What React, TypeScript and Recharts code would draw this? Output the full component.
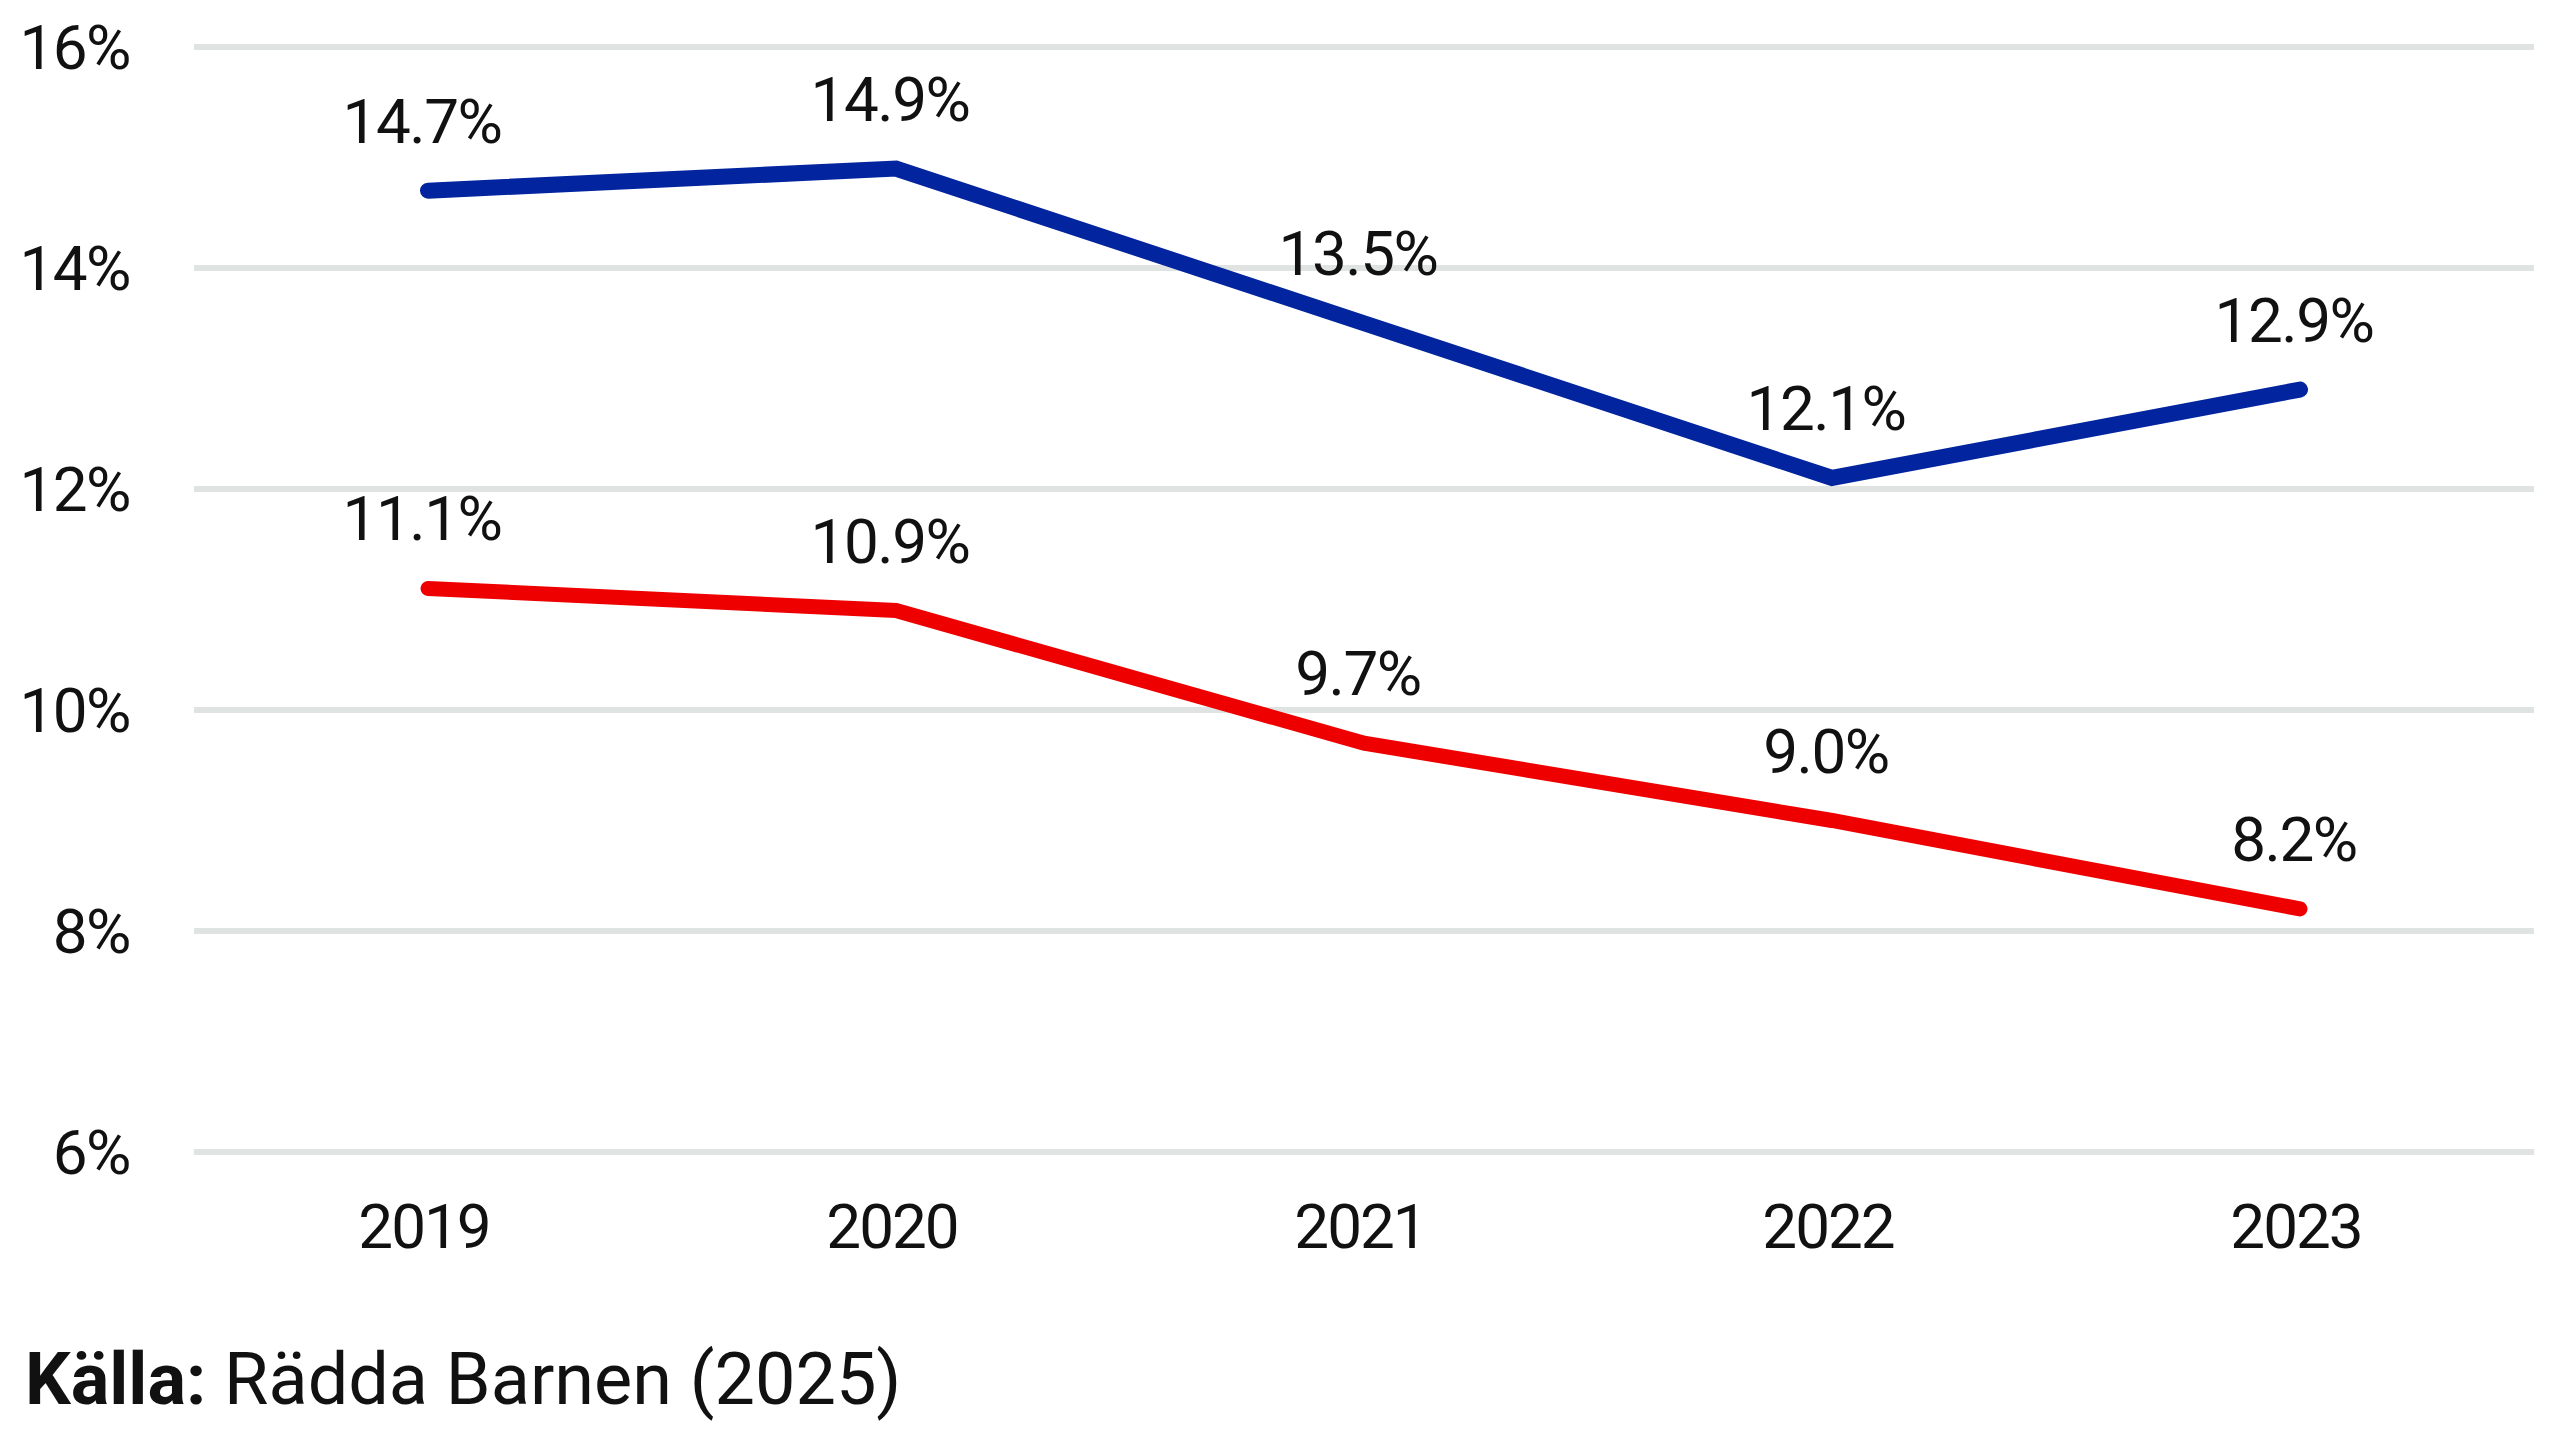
import React from 'react';
import { LineChart, Line, XAxis, YAxis, CartesianGrid, LabelList } from 'recharts';

const years = ['2019', '2020', '2021', '2022', '2023'];
const blueValues = [14.7, 14.9, 13.5, 12.1, 12.9];
const redValues = [11.1, 10.9, 9.7, 9.0, 8.2];
const yTicks = [6, 8, 10, 12, 14, 16];
const sourceBold = 'Källa:';
const sourceText = 'Rädda Barnen (2025)';

const data = years.map((y, i) => ({ year: y, blue: blueValues[i], red: redValues[i] }));

const FONT = 'Roboto, "Noto Sans", sans-serif';

const YTick = (props: any) => {
  const { x, y, payload } = props;
  return (
    <text x={x} y={y} dy={22} textAnchor="end" fill="#111" fontFamily={FONT} fontSize={62} letterSpacing={-1.5}>
      {`${payload.value}%`}
    </text>
  );
};

const XTick = (props: any) => {
  const { x, y, payload } = props;
  return (
    <text x={x - 4} y={y + 96} textAnchor="middle" fill="#111" fontFamily={FONT} fontSize={62} letterSpacing={-2}>
      {payload.value}
    </text>
  );
};

const fmt = (v: any) => `${Number(v).toFixed(1)}%`;

const DataLabel = (props: any) => {
  const { x, y, value } = props;
  return (
    <text x={x - 6} y={y - 48} textAnchor="middle" fill="#111" fontFamily={FONT} fontSize={62} letterSpacing={-1.5}>
      {fmt(value)}
    </text>
  );
};

export default function App() {
  return (
    <div style={{ position: 'absolute', left: 0, top: 0, width: 2560, height: 1441, background: '#fff' }}>
      <LineChart
        width={2560}
        height={1441}
        data={data}
        margin={{ top: 47, right: 26, bottom: 139, left: 0 }}
      >
        <CartesianGrid horizontal vertical={false} stroke="#dfe4e3" strokeWidth={6} />
        <XAxis
          dataKey="year"
          axisLine={false}
          tickLine={false}
          tickSize={0}
          tickMargin={0}
          height={150}
          padding={{ left: 234, right: 234 }}
          tick={<XTick />}
          interval={0}
        />
        <YAxis
          domain={[6, 16]}
          ticks={yTicks}
          axisLine={false}
          tickLine={false}
          tickSize={0}
          tickMargin={0}
          width={194}
          tick={(p: any) => <YTick {...p} x={130} />}
          interval={0}
        />
        <Line
          dataKey="blue"
          stroke="#02249e"
          strokeWidth={16}
          strokeLinecap="round"
          dot={false}
          activeDot={false}
          isAnimationActive={false}
        >
          <LabelList dataKey="blue" content={<DataLabel />} />
        </Line>
        <Line
          dataKey="red"
          stroke="#ee0000"
          strokeWidth={15}
          strokeLinecap="round"
          dot={false}
          activeDot={false}
          isAnimationActive={false}
        >
          <LabelList dataKey="red" content={<DataLabel />} />
        </Line>
      </LineChart>
      <div
        style={{
          position: 'absolute',
          left: 25,
          top: 1344,
          fontFamily: FONT,
          fontSize: 72,
          lineHeight: '72px',
          color: '#111',
          whiteSpace: 'nowrap',
        }}
      >
        <span style={{ fontWeight: 700 }}>{sourceBold}</span> {sourceText}
      </div>
    </div>
  );
}
